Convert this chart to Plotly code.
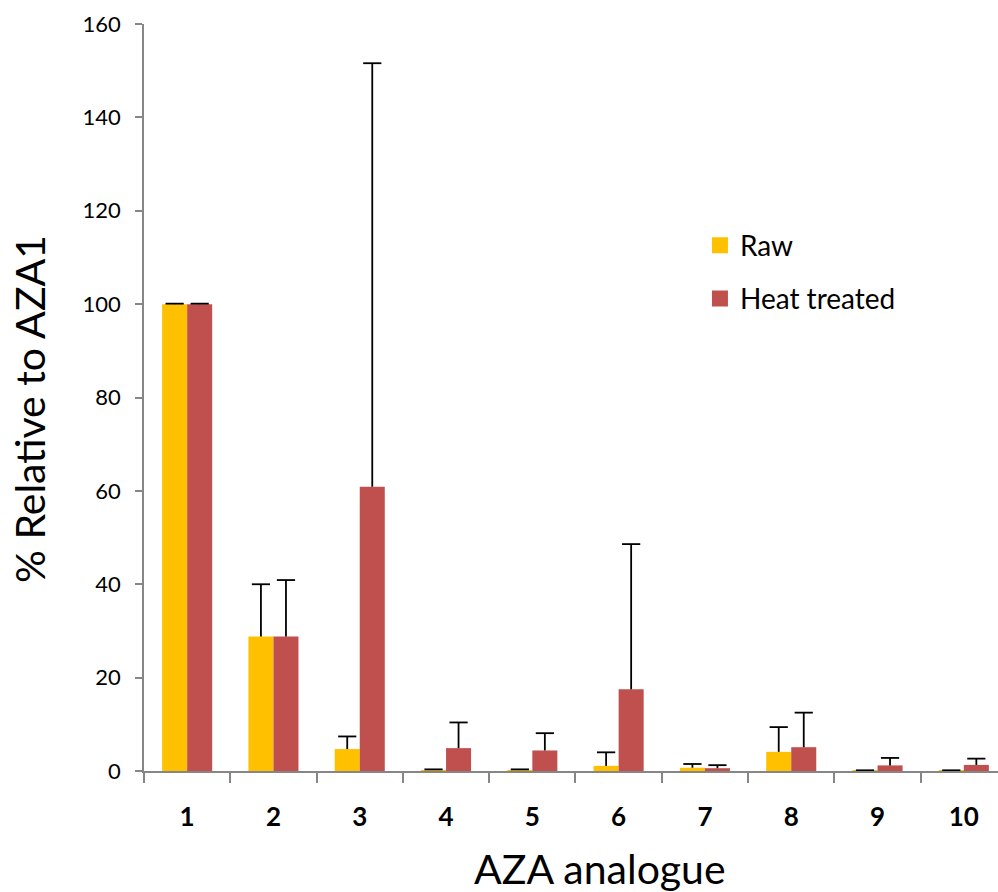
import plotly.graph_objects as go

categories = ["1", "2", "3", "4", "5", "6", "7", "8", "9", "10"]
raw_values = [100, 28.8, 4.7, 0.2, 0.2, 1.1, 0.7, 4.1, 0.1, 0.1]
raw_errors = [0.1, 11.2, 2.7, 0.15, 0.15, 2.9, 0.8, 5.3, 0.05, 0.05]
heat_values = [100, 28.8, 60.9, 4.9, 4.4, 17.5, 0.6, 5.1, 1.2, 1.3]
heat_errors = [0.1, 12.1, 90.7, 5.5, 3.7, 31.1, 0.65, 7.4, 1.6, 1.35]
y_ticks = [0, 20, 40, 60, 80, 100, 120, 140, 160]

FONT = "Lato"
GAP = 0.42
series = [
    ("Raw", raw_values, raw_errors, "#FFC000", "raw"),
    ("Heat treated", heat_values, heat_errors, "#C0504D", "heat"),
]

fig = go.Figure()
for name, vals, errs, color, grp in series:
    fig.add_trace(go.Bar(
        x=categories, y=vals, name=name, legendgroup=grp, showlegend=False,
        marker=dict(color=color, line=dict(width=0)),
    ))

# plus-only error bars: whisker from bar top upward with a cap only at the top
for name, vals, errs, color, grp in series:
    tops = [v + e for v, e in zip(vals, errs)]
    fig.add_trace(go.Scatter(
        x=categories, y=tops, mode="markers", orientation="v",
        legendgroup=grp, showlegend=False, hoverinfo="skip",
        marker=dict(symbol="line-ew", size=13, color="black",
                    line=dict(color="black", width=1.8)),
        error_y=dict(type="data", symmetric=False, array=[0] * len(errs),
                     arrayminus=errs, color="black", thickness=1.8, width=0),
    ))

# legend entries with larger square swatches (on a hidden overlay axis)
for name, vals, errs, color, grp in series:
    fig.add_trace(go.Scatter(
        x=[None], y=[None], mode="markers", name=name, legendgroup=grp,
        xaxis="x2", marker=dict(symbol="square", size=16, color=color),
    ))

fig.update_layout(
    width=998, height=892,
    margin=dict(l=144, r=0, t=24, b=121),
    paper_bgcolor="white", plot_bgcolor="white",
    barmode="group", bargap=GAP, bargroupgap=0,
    scattermode="group", scattergap=GAP,
    font=dict(family=FONT, color="black"),
    showlegend=True,
    legend=dict(x=0.651, y=0.737, xanchor="left", yanchor="top",
                font=dict(size=28, family=FONT), tracegroupgap=14,
                traceorder="grouped", itemsizing="trace",
                bgcolor="rgba(0,0,0,0)"),
    xaxis=dict(
        type="category", range=[-0.5, 9.396],
        showline=True, linecolor="#868686", linewidth=1.5,
        ticks="outside", tickson="boundaries", ticklen=10, tickcolor="#868686",
        tickwidth=1.5, showgrid=False,
        tickfont=dict(size=26, family=FONT, color="black", weight="bold"),
        ticklabelstandoff=22,
    ),
    xaxis2=dict(overlaying="x", visible=False, range=[0, 1]),
    yaxis=dict(
        range=[0, 160], tickvals=y_ticks,
        showline=True, linecolor="#868686", linewidth=1.5,
        ticks="outside", ticklen=7, tickcolor="#868686", tickwidth=1.5,
        showgrid=False, zeroline=False,
        tickfont=dict(size=22, family=FONT, color="black"),
        ticklabelstandoff=10,
    ),
    annotations=[
        dict(text="AZA analogue", xref="paper", yref="paper", x=0.534, y=-0.130,
             xanchor="center", yanchor="middle", showarrow=False,
             font=dict(size=41, family=FONT, color="black")),
        dict(text="% Relative to AZA1", xref="paper", yref="paper", x=-0.1347, y=0.4846,
             xanchor="center", yanchor="middle", showarrow=False, textangle=-90,
             font=dict(size=41, family=FONT, color="black")),
    ],
)

fig.write_html("out.html", config={"displayModeBar": False},
               post_script="document.body.style.margin='0px';")
